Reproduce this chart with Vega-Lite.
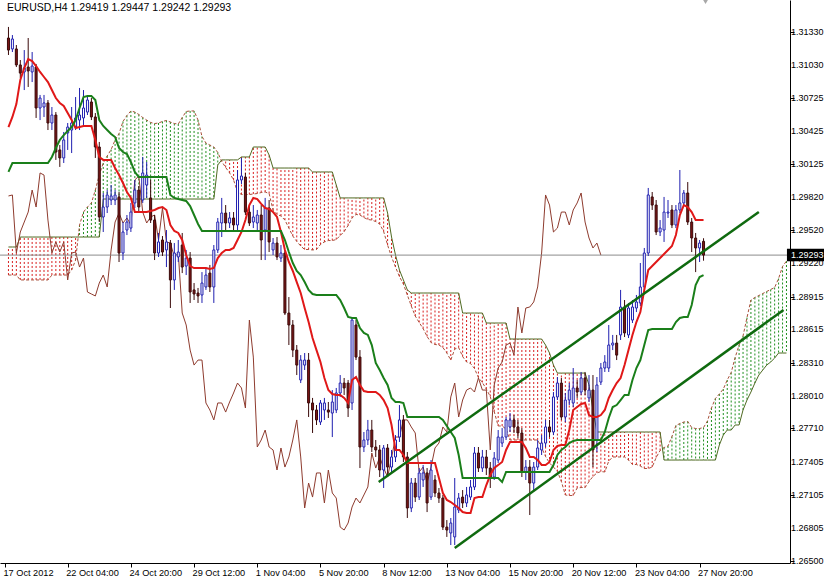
{
"$schema":"https://vega.github.io/schema/vega-lite/v6.json",
"width":790,"height":563,
"autosize":{"type":"none"},
"padding":{"left":0,"top":0,"right":39,"bottom":17},
"background":"white",
"config":{"view":{"stroke":null},"font":"Liberation Sans","axis":{"labelFont":"Liberation Sans","labelFontSize":9,"labelColor":"black","domainColor":"black","tickColor":"black","grid":false}},
"datasets":{
"candles":[
{"bar":0,"open":1.31275,"high":1.31376,"low":1.31120,"close":1.31165,"tenkan":1.30462,"kijun":1.30052,"chikou":1.29833},
{"bar":1,"open":1.31175,"high":1.31302,"low":1.31147,"close":1.31266,"tenkan":1.30554,"kijun":1.30134,"chikou":1.29842},
{"bar":2,"open":1.31175,"high":1.31211,"low":1.31010,"close":1.31029,"tenkan":1.30672,"kijun":1.30134,"chikou":1.29312},
{"bar":3,"open":1.31029,"high":1.31074,"low":1.30910,"close":1.30955,"tenkan":1.30892,"kijun":1.30134,"chikou":1.29504},
{"bar":4,"open":1.30965,"high":1.31165,"low":1.30800,"close":1.31001,"tenkan":1.31001,"kijun":1.30134,"chikou":1.29595},
{"bar":5,"open":1.31010,"high":1.31275,"low":1.30828,"close":1.30974,"tenkan":1.31083,"kijun":1.30134,"chikou":1.29686},
{"bar":6,"open":1.30965,"high":1.31147,"low":1.30873,"close":1.31019,"tenkan":1.31065,"kijun":1.30134,"chikou":1.29887},
{"bar":7,"open":1.31010,"high":1.31038,"low":1.30545,"close":1.30636,"tenkan":1.31019,"kijun":1.30134,"chikou":1.29732},
{"bar":8,"open":1.30636,"high":1.30755,"low":1.30526,"close":1.30727,"tenkan":1.30965,"kijun":1.30134,"chikou":1.30043},
{"bar":9,"open":1.30645,"high":1.30755,"low":1.30554,"close":1.30682,"tenkan":1.30919,"kijun":1.30134,"chikou":1.30024},
{"bar":10,"open":1.30682,"high":1.30709,"low":1.30435,"close":1.30499,"tenkan":1.30873,"kijun":1.30134,"chikou":1.29613},
{"bar":11,"open":1.30499,"high":1.30645,"low":1.30435,"close":1.30572,"tenkan":1.30800,"kijun":1.30189,"chikou":1.29312},
{"bar":12,"open":1.30572,"high":1.30599,"low":1.30162,"close":1.30234,"tenkan":1.30727,"kijun":1.30271,"chikou":1.29413},
{"bar":13,"open":1.30253,"high":1.30298,"low":1.30098,"close":1.30180,"tenkan":1.30682,"kijun":1.30344,"chikou":1.29321},
{"bar":14,"open":1.30180,"high":1.30417,"low":1.30134,"close":1.30344,"tenkan":1.30654,"kijun":1.30389,"chikou":1.29413},
{"bar":15,"open":1.30408,"high":1.30499,"low":1.30253,"close":1.30462,"tenkan":1.30590,"kijun":1.30426,"chikou":1.29066},
{"bar":16,"open":1.30435,"high":1.30645,"low":1.30225,"close":1.30499,"tenkan":1.30526,"kijun":1.30462,"chikou":1.29312},
{"bar":17,"open":1.30462,"high":1.30736,"low":1.30435,"close":1.30545,"tenkan":1.30453,"kijun":1.30526,"chikou":1.29321},
{"bar":18,"open":1.30526,"high":1.30819,"low":1.30435,"close":1.30572,"tenkan":1.30462,"kijun":1.30636,"chikou":1.29184},
{"bar":19,"open":1.30545,"high":1.30800,"low":1.30481,"close":1.30636,"tenkan":1.30472,"kijun":1.30736,"chikou":1.29266},
{"bar":20,"open":1.30599,"high":1.30745,"low":1.30572,"close":1.30709,"tenkan":1.30472,"kijun":1.30745,"chikou":1.28956},
{"bar":21,"open":1.30691,"high":1.30727,"low":1.30526,"close":1.30554,"tenkan":1.30472,"kijun":1.30745,"chikou":1.28938},
{"bar":22,"open":1.30554,"high":1.30590,"low":1.30180,"close":1.30280,"tenkan":1.30344,"kijun":1.30709,"chikou":1.28920},
{"bar":23,"open":1.30280,"high":1.30326,"low":1.29595,"close":1.29641,"tenkan":1.30189,"kijun":1.30526,"chikou":1.29038},
{"bar":24,"open":1.29641,"high":1.29860,"low":1.29504,"close":1.29732,"tenkan":1.30162,"kijun":1.30472,"chikou":1.29111},
{"bar":25,"open":1.29732,"high":1.29887,"low":1.29677,"close":1.29842,"tenkan":1.30162,"kijun":1.30435,"chikou":1.29002},
{"bar":26,"open":1.29796,"high":1.29933,"low":1.29750,"close":1.29833,"tenkan":1.30162,"kijun":1.30399,"chikou":1.29340},
{"bar":27,"open":1.29796,"high":1.29887,"low":1.29750,"close":1.29842,"tenkan":1.30088,"kijun":1.30371,"chikou":1.29595},
{"bar":28,"open":1.29824,"high":1.29869,"low":1.29230,"close":1.29312,"tenkan":1.30024,"kijun":1.30271,"chikou":1.29677},
{"bar":29,"open":1.29312,"high":1.29595,"low":1.29248,"close":1.29504,"tenkan":1.29951,"kijun":1.30234,"chikou":1.29586},
{"bar":30,"open":1.29522,"high":1.29659,"low":1.29476,"close":1.29595,"tenkan":1.29869,"kijun":1.30216,"chikou":1.29632},
{"bar":31,"open":1.29540,"high":1.29769,"low":1.29504,"close":1.29686,"tenkan":1.29815,"kijun":1.30143,"chikou":1.29568},
{"bar":32,"open":1.29769,"high":1.29979,"low":1.29723,"close":1.29887,"tenkan":1.29686,"kijun":1.30052,"chikou":1.29979},
{"bar":33,"open":1.29887,"high":1.29924,"low":1.29686,"close":1.29732,"tenkan":1.29686,"kijun":1.30006,"chikou":1.30015},
{"bar":34,"open":1.29796,"high":1.30189,"low":1.29769,"close":1.30043,"tenkan":1.29686,"kijun":1.30006,"chikou":1.29686},
{"bar":35,"open":1.29933,"high":1.30143,"low":1.29815,"close":1.30024,"tenkan":1.29686,"kijun":1.30006,"chikou":1.29586},
{"bar":36,"open":1.29815,"high":1.29979,"low":1.29586,"close":1.29613,"tenkan":1.29696,"kijun":1.30006,"chikou":1.29641},
{"bar":37,"open":1.29613,"high":1.29659,"low":1.29248,"close":1.29312,"tenkan":1.29705,"kijun":1.30006,"chikou":1.29659},
{"bar":38,"open":1.29312,"high":1.29495,"low":1.29276,"close":1.29413,"tenkan":1.29723,"kijun":1.30006,"chikou":1.29431},
{"bar":39,"open":1.29431,"high":1.29467,"low":1.29285,"close":1.29321,"tenkan":1.29732,"kijun":1.30006,"chikou":1.29723},
{"bar":40,"open":1.29340,"high":1.29522,"low":1.29184,"close":1.29413,"tenkan":1.29705,"kijun":1.30006,"chikou":1.29413},
{"bar":41,"open":1.29403,"high":1.29431,"low":1.28810,"close":1.29066,"tenkan":1.29568,"kijun":1.29842,"chikou":1.29403},
{"bar":42,"open":1.29066,"high":1.29403,"low":1.28975,"close":1.29312,"tenkan":1.29513,"kijun":1.29815,"chikou":1.29276},
{"bar":43,"open":1.29276,"high":1.29431,"low":1.29230,"close":1.29321,"tenkan":1.29495,"kijun":1.29805,"chikou":1.29312},
{"bar":44,"open":1.29385,"high":1.29495,"low":1.29129,"close":1.29184,"tenkan":1.29431,"kijun":1.29796,"chikou":1.28764},
{"bar":45,"open":1.29193,"high":1.29340,"low":1.29111,"close":1.29266,"tenkan":1.29294,"kijun":1.29787,"chikou":1.28655},
{"bar":46,"open":1.29266,"high":1.29321,"low":1.28856,"close":1.28956,"tenkan":1.29193,"kijun":1.29741,"chikou":1.28426},
{"bar":47,"open":1.28975,"high":1.29038,"low":1.28883,"close":1.28938,"tenkan":1.29175,"kijun":1.29659,"chikou":1.28289},
{"bar":48,"open":1.28947,"high":1.28993,"low":1.28856,"close":1.28920,"tenkan":1.29175,"kijun":1.29577,"chikou":1.28335},
{"bar":49,"open":1.28929,"high":1.29138,"low":1.28856,"close":1.29038,"tenkan":1.29175,"kijun":1.29513,"chikou":1.28335},
{"bar":50,"open":1.29002,"high":1.29175,"low":1.28975,"close":1.29111,"tenkan":1.29175,"kijun":1.29513,"chikou":1.27943},
{"bar":51,"open":1.29129,"high":1.29203,"low":1.28956,"close":1.29002,"tenkan":1.29166,"kijun":1.29513,"chikou":1.27879},
{"bar":52,"open":1.29002,"high":1.29385,"low":1.28856,"close":1.29340,"tenkan":1.29175,"kijun":1.29513,"chikou":1.27788},
{"bar":53,"open":1.29340,"high":1.29632,"low":1.29312,"close":1.29595,"tenkan":1.29266,"kijun":1.29513,"chikou":1.27943},
{"bar":54,"open":1.29586,"high":1.29815,"low":1.29458,"close":1.29677,"tenkan":1.29312,"kijun":1.29513,"chikou":1.27943},
{"bar":55,"open":1.29677,"high":1.29750,"low":1.29522,"close":1.29586,"tenkan":1.29340,"kijun":1.29513,"chikou":1.27860},
{"bar":56,"open":1.29586,"high":1.29686,"low":1.29540,"close":1.29632,"tenkan":1.29340,"kijun":1.29513,"chikou":1.27952},
{"bar":57,"open":1.29632,"high":1.29686,"low":1.29504,"close":1.29568,"tenkan":1.29358,"kijun":1.29513,"chikou":1.28034},
{"bar":58,"open":1.29568,"high":1.30070,"low":1.29522,"close":1.29979,"tenkan":1.29431,"kijun":1.29513,"chikou":1.28125},
{"bar":59,"open":1.29979,"high":1.30180,"low":1.29942,"close":1.30015,"tenkan":1.29504,"kijun":1.29513,"chikou":1.28080},
{"bar":60,"open":1.30006,"high":1.30043,"low":1.29659,"close":1.29686,"tenkan":1.29613,"kijun":1.29513,"chikou":1.27897},
{"bar":61,"open":1.29686,"high":1.29750,"low":1.29559,"close":1.29586,"tenkan":1.29750,"kijun":1.29513,"chikou":1.28700},
{"bar":62,"open":1.29595,"high":1.29750,"low":1.29540,"close":1.29641,"tenkan":1.29815,"kijun":1.29513,"chikou":1.28362},
{"bar":63,"open":1.29586,"high":1.29705,"low":1.29522,"close":1.29659,"tenkan":1.29805,"kijun":1.29513,"chikou":1.27541},
{"bar":64,"open":1.29659,"high":1.29750,"low":1.29248,"close":1.29431,"tenkan":1.29760,"kijun":1.29513,"chikou":1.27605},
{"bar":65,"open":1.29522,"high":1.29815,"low":1.29248,"close":1.29723,"tenkan":1.29723,"kijun":1.29513,"chikou":1.27696},
{"bar":66,"open":1.29723,"high":1.29796,"low":1.29321,"close":1.29413,"tenkan":1.29714,"kijun":1.29513,"chikou":1.27541},
{"bar":67,"open":1.29340,"high":1.29449,"low":1.29294,"close":1.29403,"tenkan":1.29686,"kijun":1.29513,"chikou":1.27514},
{"bar":68,"open":1.29403,"high":1.29458,"low":1.29248,"close":1.29276,"tenkan":1.29641,"kijun":1.29513,"chikou":1.27331},
{"bar":69,"open":1.29266,"high":1.29385,"low":1.29230,"close":1.29312,"tenkan":1.29504,"kijun":1.29513,"chikou":1.27532},
{"bar":70,"open":1.29312,"high":1.29340,"low":1.28746,"close":1.28764,"tenkan":1.29340,"kijun":1.29431,"chikou":1.27358},
{"bar":71,"open":1.28764,"high":1.28910,"low":1.28472,"close":1.28655,"tenkan":1.29230,"kijun":1.29321,"chikou":1.27450},
{"bar":72,"open":1.28655,"high":1.28700,"low":1.28362,"close":1.28426,"tenkan":1.29148,"kijun":1.29221,"chikou":1.27605},
{"bar":73,"open":1.28426,"high":1.28472,"low":1.28198,"close":1.28289,"tenkan":1.29047,"kijun":1.29148,"chikou":1.27788},
{"bar":74,"open":1.28153,"high":1.28380,"low":1.28125,"close":1.28335,"tenkan":1.28947,"kijun":1.29111,"chikou":1.27450},
{"bar":75,"open":1.28289,"high":1.28399,"low":1.28244,"close":1.28335,"tenkan":1.28810,"kijun":1.29047,"chikou":1.26984},
{"bar":76,"open":1.28335,"high":1.28399,"low":1.27815,"close":1.27943,"tenkan":1.28682,"kijun":1.28975,"chikou":1.27212},
{"bar":77,"open":1.27943,"high":1.27989,"low":1.27669,"close":1.27879,"tenkan":1.28536,"kijun":1.28938,"chikou":1.27084},
{"bar":78,"open":1.27879,"high":1.27924,"low":1.27742,"close":1.27788,"tenkan":1.28426,"kijun":1.28929,"chikou":1.27304},
{"bar":79,"open":1.27769,"high":1.27970,"low":1.27742,"close":1.27943,"tenkan":1.28317,"kijun":1.28929,"chikou":1.27304},
{"bar":80,"open":1.27879,"high":1.27989,"low":1.27788,"close":1.27943,"tenkan":1.28171,"kijun":1.28929,"chikou":1.27030},
{"bar":81,"open":1.27879,"high":1.27952,"low":1.27806,"close":1.27860,"tenkan":1.28061,"kijun":1.28929,"chikou":1.27331},
{"bar":82,"open":1.27851,"high":1.28061,"low":1.27632,"close":1.27952,"tenkan":1.28025,"kijun":1.28929,"chikou":1.27121},
{"bar":83,"open":1.27879,"high":1.28080,"low":1.27851,"close":1.28034,"tenkan":1.28016,"kijun":1.28929,"chikou":1.27075},
{"bar":84,"open":1.28034,"high":1.28198,"low":1.27998,"close":1.28125,"tenkan":1.28016,"kijun":1.28883,"chikou":1.26810},
{"bar":85,"open":1.28125,"high":1.28171,"low":1.28016,"close":1.28080,"tenkan":1.27989,"kijun":1.28810,"chikou":1.26783},
{"bar":86,"open":1.28125,"high":1.28153,"low":1.27815,"close":1.27897,"tenkan":1.27943,"kijun":1.28728,"chikou":1.26847},
{"bar":87,"open":1.27943,"high":1.28728,"low":1.27879,"close":1.28700,"tenkan":1.28153,"kijun":1.28719,"chikou":1.26993},
{"bar":88,"open":1.28655,"high":1.28700,"low":1.28335,"close":1.28362,"tenkan":1.28180,"kijun":1.28719,"chikou":1.27075},
{"bar":89,"open":1.28362,"high":1.28426,"low":1.27349,"close":1.27541,"tenkan":1.28107,"kijun":1.28627,"chikou":1.27030},
{"bar":90,"open":1.27541,"high":1.27678,"low":1.27495,"close":1.27605,"tenkan":1.28052,"kijun":1.28582,"chikou":1.27103},
{"bar":91,"open":1.27605,"high":1.27788,"low":1.27559,"close":1.27696,"tenkan":1.28043,"kijun":1.28564,"chikou":1.27176},
{"bar":92,"open":1.27696,"high":1.27788,"low":1.27495,"close":1.27541,"tenkan":1.28043,"kijun":1.28472,"chikou":1.27486},
{"bar":93,"open":1.27541,"high":1.27605,"low":1.27450,"close":1.27514,"tenkan":1.28043,"kijun":1.28308,"chikou":1.27349},
{"bar":94,"open":1.27514,"high":1.27559,"low":1.27267,"close":1.27331,"tenkan":1.28016,"kijun":1.28244,"chikou":1.27450},
{"bar":95,"open":1.27331,"high":1.27559,"low":1.27167,"close":1.27532,"tenkan":1.27970,"kijun":1.28171,"chikou":1.27349},
{"bar":96,"open":1.27532,"high":1.27568,"low":1.27285,"close":1.27358,"tenkan":1.27897,"kijun":1.28107,"chikou":1.27267},
{"bar":97,"open":1.27358,"high":1.27514,"low":1.27313,"close":1.27450,"tenkan":1.27742,"kijun":1.27989,"chikou":1.27440},
{"bar":98,"open":1.27450,"high":1.27650,"low":1.27404,"close":1.27605,"tenkan":1.27514,"kijun":1.27952,"chikou":1.27632},
{"bar":99,"open":1.27632,"high":1.27924,"low":1.27587,"close":1.27788,"tenkan":1.27514,"kijun":1.27952,"chikou":1.27632},
{"bar":100,"open":1.27788,"high":1.27833,"low":1.27404,"close":1.27450,"tenkan":1.27468,"kijun":1.27943,"chikou":1.27788},
{"bar":101,"open":1.27450,"high":1.27495,"low":1.26893,"close":1.26984,"tenkan":1.27395,"kijun":1.27815,"chikou":1.27788},
{"bar":102,"open":1.26984,"high":1.27258,"low":1.26947,"close":1.27212,"tenkan":1.27395,"kijun":1.27815,"chikou":1.27724},
{"bar":103,"open":1.27212,"high":1.27258,"low":1.27039,"close":1.27084,"tenkan":1.27395,"kijun":1.27815,"chikou":1.27669},
{"bar":104,"open":1.27084,"high":1.27349,"low":1.27057,"close":1.27304,"tenkan":1.27395,"kijun":1.27815,"chikou":1.27313},
{"bar":105,"open":1.27240,"high":1.27377,"low":1.27176,"close":1.27304,"tenkan":1.27395,"kijun":1.27815,"chikou":1.27358},
{"bar":106,"open":1.27304,"high":1.27349,"low":1.26947,"close":1.27030,"tenkan":1.27395,"kijun":1.27815,"chikou":1.27212},
{"bar":107,"open":1.27084,"high":1.27422,"low":1.27057,"close":1.27331,"tenkan":1.27395,"kijun":1.27815,"chikou":1.27358},
{"bar":108,"open":1.27240,"high":1.27285,"low":1.27084,"close":1.27121,"tenkan":1.27395,"kijun":1.27815,"chikou":1.27532},
{"bar":109,"open":1.27121,"high":1.27167,"low":1.27030,"close":1.27075,"tenkan":1.27258,"kijun":1.27815,"chikou":1.27577},
{"bar":110,"open":1.27075,"high":1.27103,"low":1.26783,"close":1.26810,"tenkan":1.27121,"kijun":1.27788,"chikou":1.27724},
{"bar":111,"open":1.26810,"high":1.26874,"low":1.26720,"close":1.26783,"tenkan":1.27057,"kijun":1.27733,"chikou":1.27678},
{"bar":112,"open":1.26756,"high":1.26893,"low":1.26646,"close":1.26847,"tenkan":1.27039,"kijun":1.27678,"chikou":1.27998},
{"bar":113,"open":1.26720,"high":1.27258,"low":1.26646,"close":1.26993,"tenkan":1.27011,"kijun":1.27623,"chikou":1.28125},
{"bar":114,"open":1.26966,"high":1.27121,"low":1.26938,"close":1.27075,"tenkan":1.26984,"kijun":1.27468,"chikou":1.27815},
{"bar":115,"open":1.27084,"high":1.27148,"low":1.26984,"close":1.27030,"tenkan":1.26947,"kijun":1.27258,"chikou":1.27970},
{"bar":116,"open":1.27030,"high":1.27176,"low":1.26993,"close":1.27103,"tenkan":1.26938,"kijun":1.27258,"chikou":1.28061},
{"bar":117,"open":1.27084,"high":1.27240,"low":1.27057,"close":1.27176,"tenkan":1.26938,"kijun":1.27258,"chikou":1.28080},
{"bar":118,"open":1.27176,"high":1.27541,"low":1.27148,"close":1.27486,"tenkan":1.27075,"kijun":1.27258,"chikou":1.28043},
{"bar":119,"open":1.27486,"high":1.27541,"low":1.27313,"close":1.27349,"tenkan":1.27084,"kijun":1.27258,"chikou":1.28171},
{"bar":120,"open":1.27349,"high":1.27514,"low":1.27313,"close":1.27450,"tenkan":1.27084,"kijun":1.27258,"chikou":1.28061},
{"bar":121,"open":1.27450,"high":1.27514,"low":1.27285,"close":1.27349,"tenkan":1.27194,"kijun":1.27258,"chikou":1.28061},
{"bar":122,"open":1.27349,"high":1.27404,"low":1.27167,"close":1.27267,"tenkan":1.27285,"kijun":1.27258,"chikou":1.27514},
{"bar":123,"open":1.27267,"high":1.27495,"low":1.27240,"close":1.27440,"tenkan":1.27349,"kijun":1.27258,"chikou":1.28107},
{"bar":124,"open":1.27422,"high":1.27696,"low":1.27395,"close":1.27632,"tenkan":1.27377,"kijun":1.27258,"chikou":1.28262},
{"bar":125,"open":1.27577,"high":1.27714,"low":1.27541,"close":1.27632,"tenkan":1.27404,"kijun":1.27221,"chikou":1.28317},
{"bar":126,"open":1.27632,"high":1.27815,"low":1.27605,"close":1.27788,"tenkan":1.27514,"kijun":1.27313,"chikou":1.28472},
{"bar":127,"open":1.27724,"high":1.27851,"low":1.27678,"close":1.27788,"tenkan":1.27587,"kijun":1.27313,"chikou":1.28490},
{"bar":128,"open":1.27788,"high":1.27833,"low":1.27669,"close":1.27724,"tenkan":1.27587,"kijun":1.27313,"chikou":1.28380},
{"bar":129,"open":1.27724,"high":1.27788,"low":1.27623,"close":1.27669,"tenkan":1.27587,"kijun":1.27313,"chikou":1.28819},
{"bar":130,"open":1.27669,"high":1.27714,"low":1.27267,"close":1.27313,"tenkan":1.27587,"kijun":1.27313,"chikou":1.28582},
{"bar":131,"open":1.27313,"high":1.27422,"low":1.27240,"close":1.27358,"tenkan":1.27532,"kijun":1.27313,"chikou":1.28810},
{"bar":132,"open":1.27358,"high":1.27422,"low":1.26920,"close":1.27212,"tenkan":1.27450,"kijun":1.27313,"chikou":1.28819},
{"bar":133,"open":1.27212,"high":1.27404,"low":1.27148,"close":1.27358,"tenkan":1.27450,"kijun":1.27313,"chikou":1.28865},
{"bar":134,"open":1.27358,"high":1.27605,"low":1.27331,"close":1.27532,"tenkan":1.27422,"kijun":1.27313,"chikou":1.29002},
{"bar":135,"open":1.27514,"high":1.27650,"low":1.27468,"close":1.27577,"tenkan":1.27377,"kijun":1.27313,"chikou":1.29312},
{"bar":136,"open":1.27577,"high":1.27788,"low":1.27541,"close":1.27724,"tenkan":1.27377,"kijun":1.27313,"chikou":1.29842},
{"bar":137,"open":1.27724,"high":1.27788,"low":1.27632,"close":1.27678,"tenkan":1.27404,"kijun":1.27313,"chikou":1.29750},
{"bar":138,"open":1.27678,"high":1.28043,"low":1.27650,"close":1.27998,"tenkan":1.27514,"kijun":1.27377,"chikou":1.29504},
{"bar":139,"open":1.27998,"high":1.28180,"low":1.27970,"close":1.28125,"tenkan":1.27550,"kijun":1.27468,"chikou":1.29540},
{"bar":140,"open":1.28125,"high":1.28171,"low":1.27788,"close":1.27815,"tenkan":1.27559,"kijun":1.27514,"chikou":1.29686},
{"bar":141,"open":1.27815,"high":1.28034,"low":1.27769,"close":1.27970,"tenkan":1.27559,"kijun":1.27541,"chikou":1.29686},
{"bar":142,"open":1.27970,"high":1.28125,"low":1.27924,"close":1.28061,"tenkan":1.27696,"kijun":1.27577,"chikou":1.29568},
{"bar":143,"open":1.27943,"high":1.28262,"low":1.27906,"close":1.28080,"tenkan":1.27879,"kijun":1.27596,"chikou":1.29705},
{"bar":144,"open":1.28080,"high":1.28153,"low":1.27989,"close":1.28043,"tenkan":1.27906,"kijun":1.27605,"chikou":1.29769},
{"bar":145,"open":1.28043,"high":1.28226,"low":1.28016,"close":1.28171,"tenkan":1.27934,"kijun":1.27605,"chikou":1.29860},
{"bar":146,"open":1.28171,"high":1.28226,"low":1.28016,"close":1.28061,"tenkan":1.27943,"kijun":1.27605,"chikou":1.29595},
{"bar":147,"open":1.27989,"high":1.28198,"low":1.27952,"close":1.28061,"tenkan":1.27833,"kijun":1.27605,"chikou":1.29449},
{"bar":148,"open":1.28061,"high":1.28198,"low":1.27358,"close":1.27514,"tenkan":1.27815,"kijun":1.27605,"chikou":1.29358},
{"bar":149,"open":1.27605,"high":1.28180,"low":1.27495,"close":1.28107,"tenkan":1.27815,"kijun":1.27605,"chikou":1.29403},
{"bar":150,"open":1.28134,"high":1.28308,"low":1.28107,"close":1.28262,"tenkan":1.27833,"kijun":1.27605,"chikou":1.29293},
{"bar":151,"open":1.28262,"high":1.28380,"low":1.28226,"close":1.28317,"tenkan":1.27879,"kijun":1.27678},
{"bar":152,"open":1.28262,"high":1.28655,"low":1.28226,"close":1.28472,"tenkan":1.27989,"kijun":1.27806},
{"bar":153,"open":1.28472,"high":1.28564,"low":1.28426,"close":1.28490,"tenkan":1.28061,"kijun":1.27906},
{"bar":154,"open":1.28490,"high":1.28564,"low":1.28335,"close":1.28380,"tenkan":1.28125,"kijun":1.27924},
{"bar":155,"open":1.28564,"high":1.28975,"low":1.28518,"close":1.28819,"tenkan":1.28171,"kijun":1.27970},
{"bar":156,"open":1.28819,"high":1.28883,"low":1.28545,"close":1.28582,"tenkan":1.28289,"kijun":1.28016},
{"bar":157,"open":1.28564,"high":1.28856,"low":1.28536,"close":1.28810,"tenkan":1.28426,"kijun":1.28016},
{"bar":158,"open":1.28700,"high":1.28883,"low":1.28673,"close":1.28819,"tenkan":1.28564,"kijun":1.28153},
{"bar":159,"open":1.28810,"high":1.28929,"low":1.28773,"close":1.28865,"tenkan":1.28682,"kijun":1.28262},
{"bar":160,"open":1.28856,"high":1.29221,"low":1.28828,"close":1.29002,"tenkan":1.28773,"kijun":1.28335},
{"bar":161,"open":1.29002,"high":1.29358,"low":1.28975,"close":1.29312,"tenkan":1.28975,"kijun":1.28472},
{"bar":162,"open":1.29312,"high":1.29906,"low":1.29285,"close":1.29842,"tenkan":1.29157,"kijun":1.28609},
{"bar":163,"open":1.29824,"high":1.29869,"low":1.29705,"close":1.29750,"tenkan":1.29193,"kijun":1.28618},
{"bar":164,"open":1.29750,"high":1.29796,"low":1.29476,"close":1.29504,"tenkan":1.29230,"kijun":1.28618},
{"bar":165,"open":1.29504,"high":1.29613,"low":1.29467,"close":1.29540,"tenkan":1.29266,"kijun":1.28618},
{"bar":166,"open":1.29522,"high":1.29824,"low":1.29413,"close":1.29686,"tenkan":1.29303,"kijun":1.28618},
{"bar":167,"open":1.29677,"high":1.29796,"low":1.29632,"close":1.29686,"tenkan":1.29340,"kijun":1.28618},
{"bar":168,"open":1.29705,"high":1.29750,"low":1.29540,"close":1.29568,"tenkan":1.29376,"kijun":1.28618},
{"bar":169,"open":1.29568,"high":1.29750,"low":1.29540,"close":1.29705,"tenkan":1.29476,"kijun":1.28682},
{"bar":170,"open":1.29705,"high":1.30070,"low":1.29677,"close":1.29769,"tenkan":1.29659,"kijun":1.28719},
{"bar":171,"open":1.29769,"high":1.29887,"low":1.29741,"close":1.29860,"tenkan":1.29750,"kijun":1.28728},
{"bar":172,"open":1.29860,"high":1.29960,"low":1.29568,"close":1.29595,"tenkan":1.29732,"kijun":1.28728},
{"bar":173,"open":1.29595,"high":1.29632,"low":1.29321,"close":1.29449,"tenkan":1.29686,"kijun":1.28837},
{"bar":174,"open":1.29449,"high":1.29495,"low":1.29138,"close":1.29358,"tenkan":1.29613,"kijun":1.29020},
{"bar":175,"open":1.29358,"high":1.29431,"low":1.29230,"close":1.29403,"tenkan":1.29613,"kijun":1.29093},
{"bar":176,"open":1.29419,"high":1.29447,"low":1.29242,"close":1.29293,"tenkan":1.29613,"kijun":1.29111}
],
"cloud":[
{"bar":0,"spanA":1.29111,"spanB":1.29367},{"bar":1,"spanA":1.29111,"spanB":1.29367},{"bar":2,"spanA":1.29111,"spanB":1.29367},
{"bar":3,"spanA":1.29066,"spanB":1.29458},{"bar":4,"spanA":1.29066,"spanB":1.29458},{"bar":5,"spanA":1.29066,"spanB":1.29458},
{"bar":6,"spanA":1.29066,"spanB":1.29458},{"bar":7,"spanA":1.29066,"spanB":1.29458},{"bar":8,"spanA":1.29066,"spanB":1.29458},
{"bar":9,"spanA":1.29066,"spanB":1.29458},{"bar":10,"spanA":1.29066,"spanB":1.29458},{"bar":11,"spanA":1.29111,"spanB":1.29458},
{"bar":12,"spanA":1.29111,"spanB":1.29458},{"bar":13,"spanA":1.29111,"spanB":1.29458},{"bar":14,"spanA":1.29111,"spanB":1.29458},
{"bar":15,"spanA":1.29111,"spanB":1.29458},{"bar":16,"spanA":1.29157,"spanB":1.29458},{"bar":17,"spanA":1.29248,"spanB":1.29458},
{"bar":18,"spanA":1.29568,"spanB":1.29458},{"bar":19,"spanA":1.29686,"spanB":1.29458},{"bar":20,"spanA":1.29732,"spanB":1.29458},
{"bar":21,"spanA":1.29769,"spanB":1.29458},{"bar":22,"spanA":1.29887,"spanB":1.29458},{"bar":23,"spanA":1.30024,"spanB":1.29458},
{"bar":24,"spanA":1.30134,"spanB":1.29805},{"bar":25,"spanA":1.30198,"spanB":1.29805},{"bar":26,"spanA":1.30257,"spanB":1.29805},
{"bar":27,"spanA":1.30344,"spanB":1.29805},{"bar":28,"spanA":1.30403,"spanB":1.29805},{"bar":29,"spanA":1.30513,"spanB":1.29805},
{"bar":30,"spanA":1.30568,"spanB":1.29805},{"bar":31,"spanA":1.30609,"spanB":1.29805},{"bar":32,"spanA":1.30599,"spanB":1.29805},
{"bar":33,"spanA":1.30577,"spanB":1.29805},{"bar":34,"spanA":1.30549,"spanB":1.29805},{"bar":35,"spanA":1.30526,"spanB":1.29805},
{"bar":36,"spanA":1.30504,"spanB":1.29805},{"bar":37,"spanA":1.30494,"spanB":1.29805},{"bar":38,"spanA":1.30499,"spanB":1.29805},
{"bar":39,"spanA":1.30513,"spanB":1.29805},{"bar":40,"spanA":1.30522,"spanB":1.29805},{"bar":41,"spanA":1.30508,"spanB":1.29805},
{"bar":42,"spanA":1.30494,"spanB":1.29805},{"bar":43,"spanA":1.30490,"spanB":1.29805},{"bar":44,"spanA":1.30549,"spanB":1.29805},
{"bar":45,"spanA":1.30604,"spanB":1.29805},{"bar":46,"spanA":1.30609,"spanB":1.29805},{"bar":47,"spanA":1.30609,"spanB":1.29805},
{"bar":48,"spanA":1.30526,"spanB":1.29805},{"bar":49,"spanA":1.30376,"spanB":1.29805},{"bar":50,"spanA":1.30316,"spanB":1.29805},
{"bar":51,"spanA":1.30298,"spanB":1.29805},{"bar":52,"spanA":1.30280,"spanB":1.29805},{"bar":53,"spanA":1.30230,"spanB":1.30116},
{"bar":54,"spanA":1.30148,"spanB":1.30162},{"bar":55,"spanA":1.30093,"spanB":1.30162},{"bar":56,"spanA":1.30043,"spanB":1.30162},
{"bar":57,"spanA":1.29979,"spanB":1.30162},{"bar":58,"spanA":1.29869,"spanB":1.30162},{"bar":59,"spanA":1.29846,"spanB":1.30189},
{"bar":60,"spanA":1.29846,"spanB":1.30189},{"bar":61,"spanA":1.29846,"spanB":1.30189},{"bar":62,"spanA":1.29851,"spanB":1.30280},
{"bar":63,"spanA":1.29855,"spanB":1.30280},{"bar":64,"spanA":1.29864,"spanB":1.30280},{"bar":65,"spanA":1.29869,"spanB":1.30280},
{"bar":66,"spanA":1.29855,"spanB":1.30207},{"bar":67,"spanA":1.29705,"spanB":1.30088},{"bar":68,"spanA":1.29664,"spanB":1.30088},
{"bar":69,"spanA":1.29650,"spanB":1.30088},{"bar":70,"spanA":1.29613,"spanB":1.30088},{"bar":71,"spanA":1.29540,"spanB":1.30088},
{"bar":72,"spanA":1.29467,"spanB":1.30088},{"bar":73,"spanA":1.29418,"spanB":1.30088},{"bar":74,"spanA":1.29376,"spanB":1.30088},
{"bar":75,"spanA":1.29344,"spanB":1.30088},{"bar":76,"spanA":1.29344,"spanB":1.30088},{"bar":77,"spanA":1.29340,"spanB":1.30052},
{"bar":78,"spanA":1.29344,"spanB":1.30052},{"bar":79,"spanA":1.29390,"spanB":1.30052},{"bar":80,"spanA":1.29413,"spanB":1.30052},
{"bar":81,"spanA":1.29426,"spanB":1.30052},{"bar":82,"spanA":1.29426,"spanB":1.30052},{"bar":83,"spanA":1.29435,"spanB":1.29933},
{"bar":84,"spanA":1.29472,"spanB":1.29815},{"bar":85,"spanA":1.29508,"spanB":1.29815},{"bar":86,"spanA":1.29563,"spanB":1.29815},
{"bar":87,"spanA":1.29632,"spanB":1.29815},{"bar":88,"spanA":1.29664,"spanB":1.29815},{"bar":89,"spanA":1.29659,"spanB":1.29815},
{"bar":90,"spanA":1.29636,"spanB":1.29815},{"bar":91,"spanA":1.29618,"spanB":1.29815},{"bar":92,"spanA":1.29613,"spanB":1.29815},
{"bar":93,"spanA":1.29599,"spanB":1.29815},{"bar":94,"spanA":1.29577,"spanB":1.29815},{"bar":95,"spanA":1.29508,"spanB":1.29815},
{"bar":96,"spanA":1.29385,"spanB":1.29677},{"bar":97,"spanA":1.29276,"spanB":1.29458},{"bar":98,"spanA":1.29184,"spanB":1.29294},
{"bar":99,"spanA":1.29097,"spanB":1.29157},{"bar":100,"spanA":1.29029,"spanB":1.29066},{"bar":101,"spanA":1.28929,"spanB":1.28975},
{"bar":102,"spanA":1.28828,"spanB":1.28947},{"bar":103,"spanA":1.28737,"spanB":1.28947},{"bar":104,"spanA":1.28678,"spanB":1.28947},
{"bar":105,"spanA":1.28622,"spanB":1.28947},{"bar":106,"spanA":1.28550,"spanB":1.28947},{"bar":107,"spanA":1.28495,"spanB":1.28947},
{"bar":108,"spanA":1.28477,"spanB":1.28947},{"bar":109,"spanA":1.28472,"spanB":1.28947},{"bar":110,"spanA":1.28449,"spanB":1.28947},
{"bar":111,"spanA":1.28399,"spanB":1.28947},{"bar":112,"spanA":1.28335,"spanB":1.28947},{"bar":113,"spanA":1.28435,"spanB":1.28947},
{"bar":114,"spanA":1.28449,"spanB":1.28947},{"bar":115,"spanA":1.28367,"spanB":1.28764},{"bar":116,"spanA":1.28317,"spanB":1.28764},
{"bar":117,"spanA":1.28303,"spanB":1.28764},{"bar":118,"spanA":1.28258,"spanB":1.28764},{"bar":119,"spanA":1.28175,"spanB":1.28764},
{"bar":120,"spanA":1.28130,"spanB":1.28764},{"bar":121,"spanA":1.28070,"spanB":1.28673},{"bar":122,"spanA":1.28002,"spanB":1.28673},
{"bar":123,"spanA":1.27864,"spanB":1.28673},{"bar":124,"spanA":1.27733,"spanB":1.28673},{"bar":125,"spanA":1.27733,"spanB":1.28673},
{"bar":126,"spanA":1.27705,"spanB":1.28673},{"bar":127,"spanA":1.27605,"spanB":1.28527},{"bar":128,"spanA":1.27605,"spanB":1.28527},
{"bar":129,"spanA":1.27605,"spanB":1.28527},{"bar":130,"spanA":1.27605,"spanB":1.28527},{"bar":131,"spanA":1.27605,"spanB":1.28527},
{"bar":132,"spanA":1.27605,"spanB":1.28527},{"bar":133,"spanA":1.27605,"spanB":1.28527},{"bar":134,"spanA":1.27605,"spanB":1.28527},
{"bar":135,"spanA":1.27536,"spanB":1.28527},{"bar":136,"spanA":1.27454,"spanB":1.28472},{"bar":137,"spanA":1.27395,"spanB":1.28399},
{"bar":138,"spanA":1.27358,"spanB":1.28289},{"bar":139,"spanA":1.27317,"spanB":1.28216},{"bar":140,"spanA":1.27226,"spanB":1.28216},
{"bar":141,"spanA":1.27103,"spanB":1.28216},{"bar":142,"spanA":1.27098,"spanB":1.28216},{"bar":143,"spanA":1.27098,"spanB":1.28216},
{"bar":144,"spanA":1.27167,"spanB":1.28216},{"bar":145,"spanA":1.27171,"spanB":1.28216},{"bar":146,"spanA":1.27171,"spanB":1.28216},
{"bar":147,"spanA":1.27226,"spanB":1.28107},{"bar":148,"spanA":1.27272,"spanB":1.27879},{"bar":149,"spanA":1.27304,"spanB":1.27678},
{"bar":150,"spanA":1.27317,"spanB":1.27678},{"bar":151,"spanA":1.27313,"spanB":1.27678},{"bar":152,"spanA":1.27413,"spanB":1.27678},
{"bar":153,"spanA":1.27450,"spanB":1.27678},{"bar":154,"spanA":1.27450,"spanB":1.27678},{"bar":155,"spanA":1.27450,"spanB":1.27678},
{"bar":156,"spanA":1.27450,"spanB":1.27678},{"bar":157,"spanA":1.27422,"spanB":1.27678},{"bar":158,"spanA":1.27381,"spanB":1.27678},
{"bar":159,"spanA":1.27381,"spanB":1.27678},{"bar":160,"spanA":1.27367,"spanB":1.27678},{"bar":161,"spanA":1.27345,"spanB":1.27678},
{"bar":162,"spanA":1.27345,"spanB":1.27678},{"bar":163,"spanA":1.27358,"spanB":1.27678},{"bar":164,"spanA":1.27445,"spanB":1.27678},
{"bar":165,"spanA":1.27509,"spanB":1.27678},{"bar":166,"spanA":1.27536,"spanB":1.27422},{"bar":167,"spanA":1.27550,"spanB":1.27422},
{"bar":168,"spanA":1.27637,"spanB":1.27422},{"bar":169,"spanA":1.27737,"spanB":1.27422},{"bar":170,"spanA":1.27755,"spanB":1.27422},
{"bar":171,"spanA":1.27769,"spanB":1.27422},{"bar":172,"spanA":1.27774,"spanB":1.27422},{"bar":173,"spanA":1.27719,"spanB":1.27422},
{"bar":174,"spanA":1.27710,"spanB":1.27422},{"bar":175,"spanA":1.27710,"spanB":1.27422},{"bar":176,"spanA":1.27719,"spanB":1.27422},
{"bar":177,"spanA":1.27779,"spanB":1.27422},{"bar":178,"spanA":1.27897,"spanB":1.27422},{"bar":179,"spanA":1.27984,"spanB":1.27422},
{"bar":180,"spanA":1.28025,"spanB":1.27559},{"bar":181,"spanA":1.28070,"spanB":1.27650},{"bar":182,"spanA":1.28153,"spanB":1.27696},
{"bar":183,"spanA":1.28221,"spanB":1.27696},{"bar":184,"spanA":1.28358,"spanB":1.27742},{"bar":185,"spanA":1.28472,"spanB":1.27742},
{"bar":186,"spanA":1.28555,"spanB":1.27879},{"bar":187,"spanA":1.28723,"spanB":1.27970},{"bar":188,"spanA":1.28883,"spanB":1.28043},
{"bar":189,"spanA":1.28906,"spanB":1.28125},{"bar":190,"spanA":1.28924,"spanB":1.28198},{"bar":191,"spanA":1.28942,"spanB":1.28244},
{"bar":192,"spanA":1.28961,"spanB":1.28289},{"bar":193,"spanA":1.28979,"spanB":1.28317},{"bar":194,"spanA":1.28997,"spanB":1.28353},
{"bar":195,"spanA":1.29079,"spanB":1.28399},{"bar":196,"spanA":1.29189,"spanB":1.28399},{"bar":197,"spanA":1.29239,"spanB":1.28399}
],
"channels":[
{"line":"upper","bar":93.75,"price":1.27221},{"line":"upper","bar":190,"price":1.29686},
{"line":"lower","bar":113,"price":1.26619},{"line":"lower","bar":196.25,"price":1.28792}
],
"levels":[
{"level":1.265},{"level":1.26805},{"level":1.27105},{"level":1.27405},{"level":1.2771},{"level":1.2801},{"level":1.2831},{"level":1.28615},{"level":1.28915},
{"level":1.2922},{"level":1.2952},{"level":1.2982},{"level":1.30125},{"level":1.30425},{"level":1.30725},{"level":1.3103},{"level":1.3133}
]
},
"layer":[
{"data":{"name":"cloud"},
 "mark":{"type":"rule","strokeWidth":1,"strokeDash":[2,2],"clip":true},
 "encoding":{
  "x":{"field":"bar","type":"quantitative","scale":{"domain":[-0.875,196.625],"nice":false,"zero":false},
   "axis":{"title":null,"orient":"bottom","values":[-0.875,15,31,47,63,79,95,111,127,143,159,175],
    "labelExpr":"['17 Oct 2012','22 Oct 04:00','24 Oct 20:00','29 Oct 12:00','1 Nov 04:00','5 Nov 20:00','8 Nov 12:00','13 Nov 04:00','15 Nov 20:00','20 Nov 12:00','23 Nov 04:00','27 Nov 20:00'][round((datum.value+1)/16)]",
    "labelAlign":"left","labelBaseline":"top","labelPadding":1,"labelOffset":-2,"tickSize":4,"labelFlush":false,"labelOverlap":false,"labelFontSize":9.2,"grid":false}},
  "y":{"field":"spanA","type":"quantitative","scale":{"domain":[1.26482,1.31622],"nice":false,"zero":false},
   "axis":{"title":null,"orient":"right","values":[1.265,1.26805,1.27105,1.27405,1.2771,1.2801,1.2831,1.28615,1.28915,1.2922,1.2952,1.2982,1.30125,1.30425,1.30725,1.3103,1.3133],
    "labels":false,"tickSize":4,"grid":false}},
  "y2":{"field":"spanB"},
  "color":{"condition":{"test":"datum.spanA >= datum.spanB","value":"#1f8f1f"},"value":"#d81e1e"}
 }},
{"data":{"name":"cloud"},
 "mark":{"type":"line","strokeWidth":1,"strokeDash":[3,2],"color":"#a8503a","clip":true},
 "encoding":{"x":{"field":"bar","type":"quantitative"},"y":{"field":"spanA","type":"quantitative"}}},
{"data":{"name":"cloud"},
 "mark":{"type":"line","strokeWidth":1,"color":"#4f6a22","clip":true},
 "encoding":{"x":{"field":"bar","type":"quantitative"},"y":{"field":"spanB","type":"quantitative"}}},
{"data":{"name":"candles"},
 "mark":{"type":"line","strokeWidth":1,"color":"#8e3b2e","clip":true},
 "encoding":{"x":{"field":"bar","type":"quantitative"},"y":{"field":"chikou","type":"quantitative"}}},
{"data":{"values":[{"price":1.29293}]},
 "mark":{"type":"rule","strokeWidth":1,"color":"#8c8c8c"},
 "encoding":{"y":{"field":"price","type":"quantitative"}}},
{"data":{"name":"candles"},
 "mark":{"type":"rule","strokeWidth":1,"clip":true},
 "encoding":{"x":{"field":"bar","type":"quantitative"},"y":{"field":"low","type":"quantitative"},"y2":{"field":"high"},
  "color":{"condition":{"test":"datum.close >= datum.open","value":"#1f1fb0"},"value":"#3a0a0a"}}},
{"data":{"name":"candles"},
 "mark":{"type":"bar","width":2,"strokeWidth":1,"clip":true},
 "encoding":{"x":{"field":"bar","type":"quantitative"},"y":{"field":"open","type":"quantitative"},"y2":{"field":"close"},
  "fill":{"condition":{"test":"datum.close >= datum.open","value":"#ffffff"},"value":"#7c1616"},
  "stroke":{"condition":{"test":"datum.close >= datum.open","value":"#1f1fb0"},"value":"#3a0a0a"}}},
{"data":{"name":"candles"},
 "mark":{"type":"line","strokeWidth":2,"color":"#e01818","clip":true},
 "encoding":{"x":{"field":"bar","type":"quantitative"},"y":{"field":"tenkan","type":"quantitative"}}},
{"data":{"name":"candles"},
 "mark":{"type":"line","strokeWidth":2,"color":"#1a7f1a","clip":true},
 "encoding":{"x":{"field":"bar","type":"quantitative"},"y":{"field":"kijun","type":"quantitative"}}},
{"data":{"name":"channels"},
 "mark":{"type":"line","strokeWidth":2.5,"color":"#0f6a0f","clip":true},
 "encoding":{"x":{"field":"bar","type":"quantitative"},"y":{"field":"price","type":"quantitative"},"detail":{"field":"line"}}},
{"data":{"values":[{"label":"EURUSD,H4  1.29419 1.29447 1.29242 1.29293"}]},
 "mark":{"type":"text","align":"left","baseline":"top","dx":2,"dy":3,"fontSize":10.5,"font":"Liberation Sans","color":"black"},
 "encoding":{"x":{"datum":-0.875,"type":"quantitative"},"y":{"datum":1.31622,"type":"quantitative"},"text":{"field":"label"}}},
{"data":{"values":[{"marker":"shift"}]},
 "mark":{"type":"point","shape":"triangle-down","size":90,"filled":true,"color":"#a8a8a8","opacity":1,"clip":false},
 "encoding":{"x":{"datum":176.5,"type":"quantitative"},"y":{"datum":1.31622,"type":"quantitative"}}},
{"data":{"name":"levels"},
 "mark":{"type":"text","align":"left","baseline":"middle","dx":6,"fontSize":9,"font":"Liberation Sans","color":"black","clip":false},
 "encoding":{"x":{"datum":196.625,"type":"quantitative"},"y":{"field":"level","type":"quantitative"},"text":{"field":"level","type":"quantitative","format":".5f"}}},
{"data":{"values":[{"price":1.29293}]},
 "mark":{"type":"point","shape":"M0.1,-0.32L2,-0.32L2,0.32L0.1,0.32Z","size":1521,"filled":true,"color":"black","opacity":1,"clip":false},
 "encoding":{"x":{"datum":196.625,"type":"quantitative"},"y":{"field":"price","type":"quantitative"}}},
{"data":{"values":[{"price":1.29293}]},
 "mark":{"type":"text","align":"left","baseline":"middle","dx":6,"fontSize":9,"font":"Liberation Sans","color":"white"},
 "encoding":{"x":{"datum":196.625,"type":"quantitative"},"y":{"field":"price","type":"quantitative"},"text":{"field":"price","type":"quantitative","format":".5f"}}}
]
}
